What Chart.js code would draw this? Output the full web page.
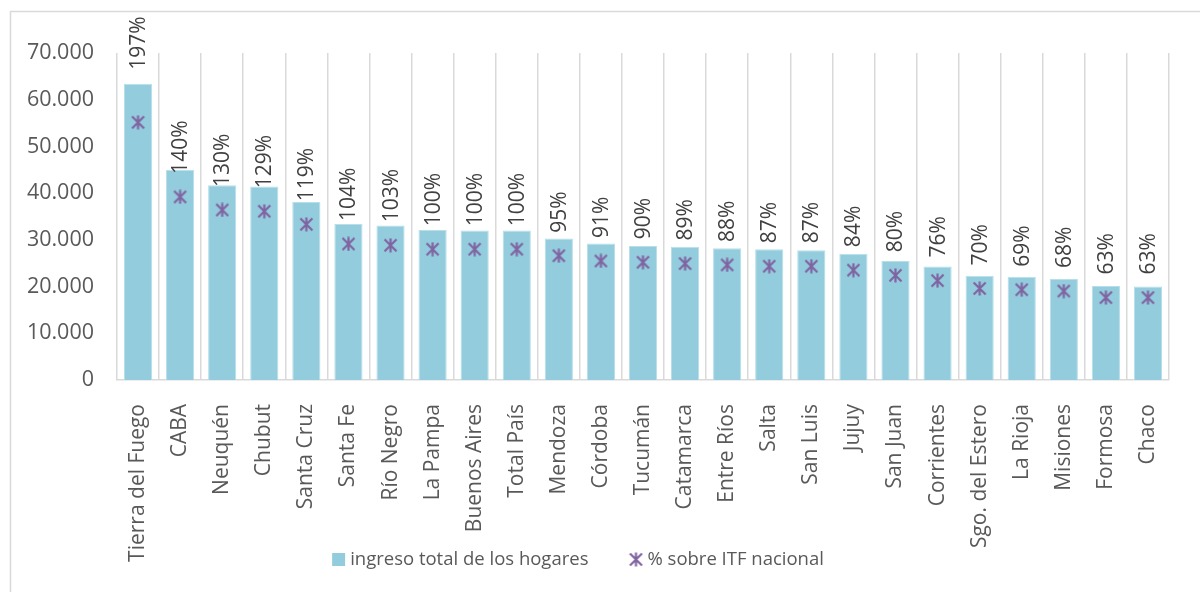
<!DOCTYPE html>
<html>
<head>
<meta charset="utf-8">
<script src="https://cdn.jsdelivr.net/npm/chart.js@4"></script>
<style>
  html, body { margin: 0; background: #fff; overflow: hidden; }
  .wrap { width: 1200px; height: 592px; position: relative; }
</style>
</head>
<body>
<div class="wrap"><canvas id="myChart"></canvas></div>
<script>
const provincias = ['Tierra del Fuego', 'CABA', 'Neuquén', 'Chubut', 'Santa Cruz', 'Santa Fe', 'Río Negro',
    'La Pampa', 'Buenos Aires', 'Total País', 'Mendoza', 'Córdoba', 'Tucumán', 'Catamarca', 'Entre Ríos',
    'Salta', 'San Luis', 'Jujuy', 'San Juan', 'Corrientes', 'Sgo. del Estero', 'La Rioja', 'Misiones',
    'Formosa', 'Chaco']
const ingresoTotal = [63400, 45000, 41700, 41400, 38100, 33400, 33100, 32100, 32000, 32000, 30300, 29200,
    28700, 28500, 28200, 28000, 27800, 27000, 25500, 24300, 22300, 22100, 21600, 20100, 20000]
const porcentaje = [197, 140, 130, 129, 119, 104, 103, 100, 100, 100, 95, 91, 90, 89, 88, 87, 87, 84, 80,
    76, 70, 69, 68, 63, 63]
const yTicks = [0, 10000, 20000, 30000, 40000, 50000, 60000, 70000]

const FONT = 'Open Sans'
const TEXT = '#595959'
const BAR = '#93CDDD'
const STAR = '#8064A2'

const makeStar = () => {
    const c = document.createElement('canvas')
    c.width = 15
    c.height = 15
    const g = c.getContext('2d')
    g.strokeStyle = STAR
    g.lineWidth = 2.2
    g.beginPath()
    g.moveTo(1.5, 1.5); g.lineTo(13.5, 13.5)
    g.moveTo(13.5, 1.5); g.lineTo(1.5, 13.5)
    g.moveTo(7.5, 0.5); g.lineTo(7.5, 14.5)
    g.stroke()
    return c
}
const starImg = makeStar()

// marco del gráfico + leyenda + etiquetas de porcentaje
const decor = {
    id: 'decor',
    beforeDraw(chart) {
        const ctx = chart.ctx
        ctx.save()
        ctx.fillStyle = '#fff'
        ctx.fillRect(0, 0, chart.width, chart.height)
        ctx.strokeStyle = '#d9d9d9'
        ctx.lineWidth = 1.5
        ctx.beginPath()
        ctx.moveTo(10.5, chart.height)
        ctx.lineTo(10.5, 11.5)
        ctx.lineTo(chart.width, 11.5)
        ctx.stroke()
        ctx.restore()
    },
    afterDatasetsDraw(chart) {
        const ctx = chart.ctx
        const bars = chart.getDatasetMeta(0).data
        const pts = chart.getDatasetMeta(1).data
        ctx.save()
        ctx.fillStyle = '#404040'
        ctx.font = `21px "${FONT}"`
        ctx.textAlign = 'left'
        ctx.textBaseline = 'middle'
        pts.forEach((p, i) => {
            let base = p.y - 23
            if (base > bars[i].y + 10) base = bars[i].y - 14
            ctx.save()
            ctx.translate(p.x + 1, base)
            ctx.rotate(-Math.PI / 2)
            ctx.fillText(porcentaje[i] + '%', 0, 0)
            ctx.restore()
        })
        ctx.restore()
    },
    afterDraw(chart) {
        const ctx = chart.ctx
        const items = chart.data.datasets.map(d => d.label)
        ctx.save()
        ctx.font = `18.5px "${FONT}"`
        ctx.textBaseline = 'middle'
        const w1 = ctx.measureText(items[0]).width
        const w2 = ctx.measureText(items[1]).width
        const total = 13 + 5 + w1 + 40 + 15 + 4 + w2
        let x = 578 - total / 2
        const y = 560
        ctx.fillStyle = BAR
        ctx.fillRect(x, y - 7, 13, 13)
        x += 18
        ctx.fillStyle = TEXT
        ctx.fillText(items[0], x, y)
        x += w1 + 40
        ctx.drawImage(starImg, x, y - 8)
        x += 19
        ctx.fillText(items[1], x, y)
        ctx.restore()
    }
}

const ctx = document.getElementById('myChart').getContext('2d')
const chart = new Chart(ctx, {
    type: 'bar',
    data: {
        labels: provincias,
        datasets: [
            {
                label: 'ingreso total de los hogares',
                data: ingresoTotal,
                backgroundColor: BAR,
                borderColor: '#b7dfe9',
                borderWidth: 1,
                barPercentage: 0.67,
                categoryPercentage: 1,
                yAxisID: 'y',
                order: 2
            },
            {
                type: 'line',
                label: '% sobre ITF nacional',
                data: porcentaje,
                showLine: false,
                pointStyle: starImg,
                yAxisID: 'y2',
                order: 1
            }
        ]
    },
    options: {
        responsive: true,
        maintainAspectRatio: false,
        animation: false,
        layout: {
            padding: { top: 53, right: 31, bottom: 0, left: 0 }
        },
        plugins: {
            legend: { display: false },
            tooltip: { enabled: false }
        },
        scales: {
            x: {
                grid: {
                    display: true,
                    offset: true,
                    color: '#d9d9d9',
                    lineWidth: 1.5,
                    drawTicks: false
                },
                border: { color: '#d9d9d9', width: 1.5 },
                ticks: {
                    color: TEXT,
                    font: { family: FONT, size: 21 },
                    maxRotation: 90,
                    minRotation: 90,
                    padding: 24,
                    autoSkip: false
                },
                afterFit: scale => { scale.height = 212 }
            },
            y: {
                min: 0,
                max: 70000,
                afterBuildTicks: scale => { scale.ticks = yTicks.map(v => ({ value: v })) },
                grid: { display: false, drawTicks: false },
                border: { display: false },
                ticks: {
                    color: TEXT,
                    font: { family: FONT, size: 21.5 },
                    padding: 23,
                    callback: v => v.toLocaleString('de-DE')
                },
                afterFit: scale => { scale.width = 117 }
            },
            y2: {
                display: false,
                min: 0,
                max: 250
            }
        }
    },
    plugins: [decor]
})
</script>
</body>
</html>
